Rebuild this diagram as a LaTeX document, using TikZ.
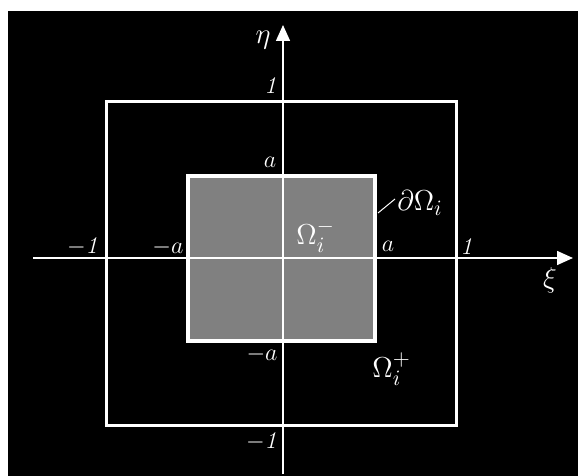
\documentclass[tikz,border=0pt]{standalone}
\usetikzlibrary{arrows.meta}
\definecolor{midgray}{RGB}{128,128,128}
\begin{document}
\begin{tikzpicture}[x=0.5pt,y=-0.5pt,
  lbl/.style={text=white,inner sep=0pt,font=\fontsize{13}{15}\selectfont},
  big/.style={text=white,inner sep=0pt,font=\fontsize{15.5}{17}\selectfont},
  axis/.style={draw=white,line width=0.75pt,-{Triangle[length=8pt,width=7pt]}}]
\useasboundingbox (0,0) rectangle (578,476);
\fill[white] (0,0) rectangle (578,476);
\fill[black] (8,11) rectangle (578,476);
% inner square
\fill[midgray] (187.5,175.5) rectangle (375,341);
\draw[white,line width=2pt] (187.5,175.5) rectangle (375,341);
% outer square
\draw[white,line width=1.5pt] (106.5,102) rectangle (456,425);
% axes
\coordinate (xs) at (33,258);
\coordinate (xe) at (573,258);
\coordinate (ys) at (283,474);
\coordinate (ye) at (283,25);
\draw[axis] (xs) -- (xe);
\draw[axis] (ys) -- (ye);
% labels
\node[big] (eta) at (263,40) {$\eta$};
\node[big] (xi) at (550,280) {$\xi$};
\node[lbl] (t1) at (272,86) {$\mathit{1}$};
\node[lbl] (ta) at (270,162) {$a$};
\node[lbl] (bma) at (262,354) {$-a$};
\node[lbl] (bm1) at (263,442) {$-\mathit{1}$};
\node[lbl] (lm1) at (84,247) {$-\mathit{1}$};
\node[lbl] (lma) at (168,247) {$-a$};
\node[lbl] (ra) at (388,246) {$a$};
\node[lbl] (r1) at (468,247) {$\mathit{1}$};
\node[big,anchor=west] (dom) at (397,203) {$\partial\Omega_i$};
\node[big,anchor=west] (om) at (296,236) {$\Omega_i^-$};
\node[big,anchor=west] (op) at (372,369) {$\Omega_i^+$};
\coordinate (l1) at (378,213);
\coordinate (l2) at (395,199);
\draw[white,line width=0.5pt] (l1) -- (l2);
\end{tikzpicture}
\end{document}
